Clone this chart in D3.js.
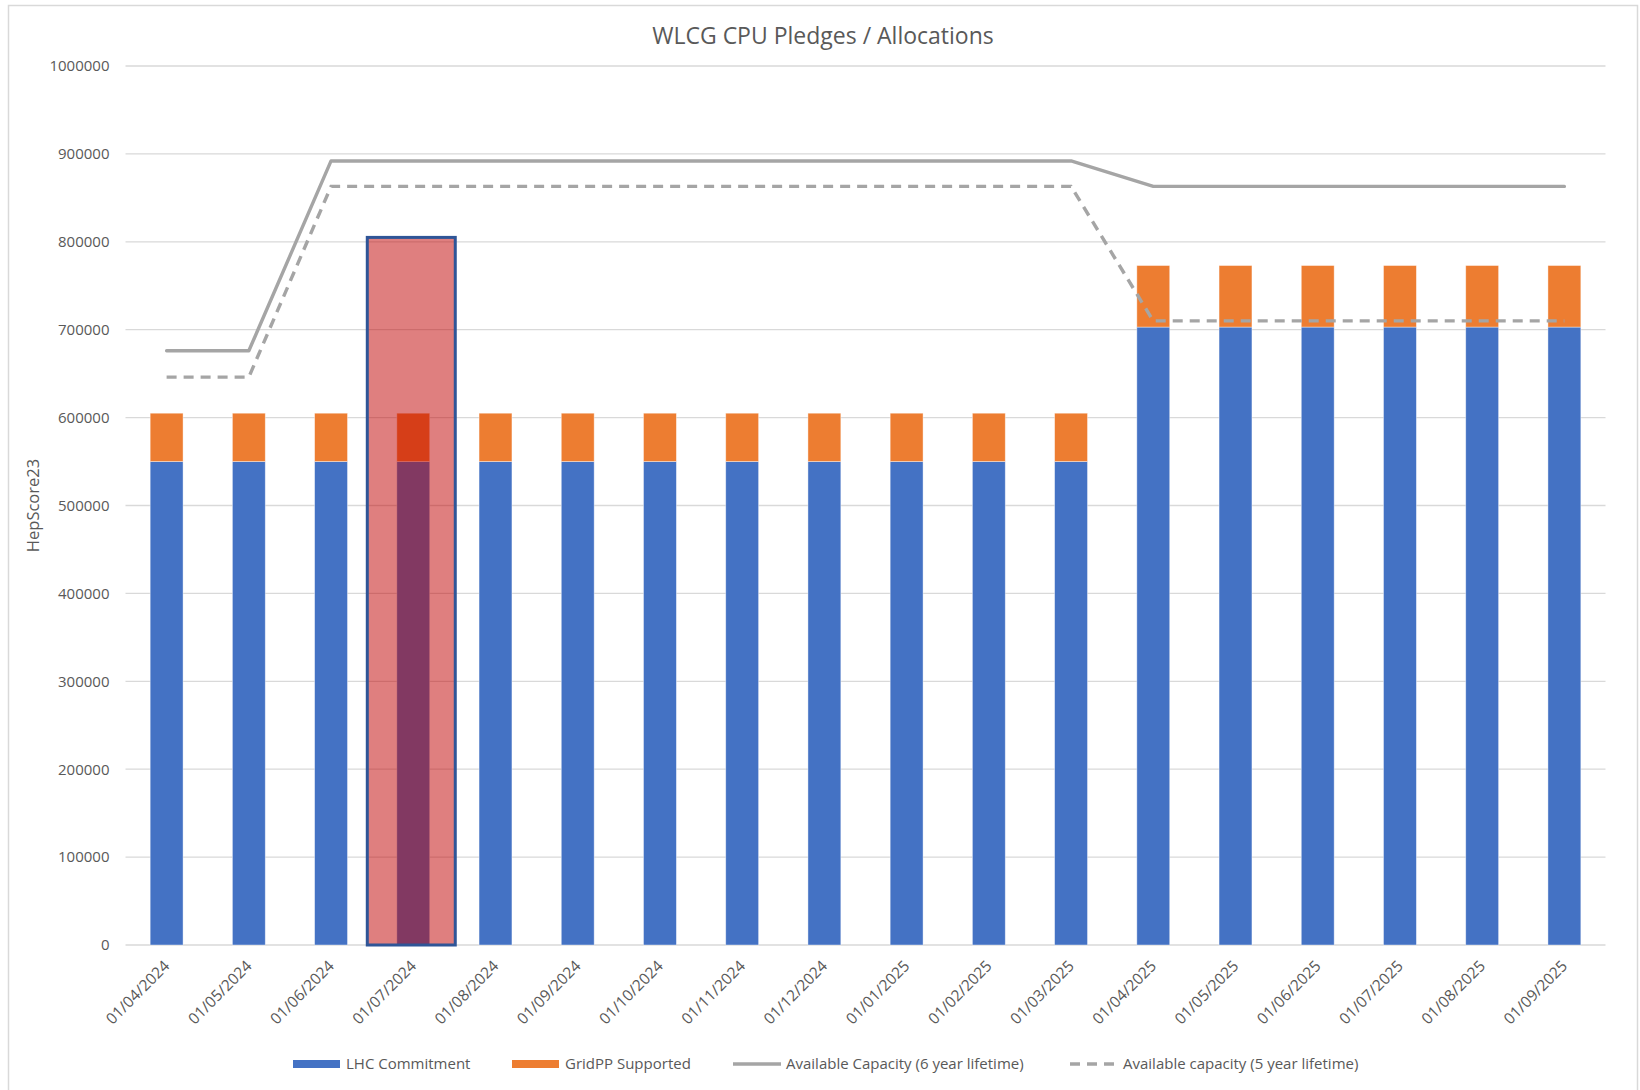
<!DOCTYPE html>
<html>
<head>
<meta charset="utf-8">
<script src="https://cdn.jsdelivr.net/npm/d3@7"></script>
<style>
  body { margin: 0; background: #fff; }
  svg { display: block; font-family: 'Open Sans', 'Noto Sans', sans-serif; }
</style>
</head>
<body>
<svg width="1640" height="1090"></svg>
<script>
const months = ['01/04/2024', '01/05/2024', '01/06/2024', '01/07/2024', '01/08/2024', '01/09/2024',
  '01/10/2024', '01/11/2024', '01/12/2024', '01/01/2025', '01/02/2025', '01/03/2025',
  '01/04/2025', '01/05/2025', '01/06/2025', '01/07/2025', '01/08/2025', '01/09/2025']
const lhcCommitment = [550000, 550000, 550000, 550000, 550000, 550000, 550000, 550000, 550000, 550000, 550000, 550000,
  703000, 703000, 703000, 703000, 703000, 703000]
const gridppSupported = [55000, 55000, 55000, 55000, 55000, 55000, 55000, 55000, 55000, 55000, 55000, 55000,
  70000, 70000, 70000, 70000, 70000, 70000]
const capacity6yr = [676000, 676000, 892000, 892000, 892000, 892000, 892000, 892000, 892000, 892000, 892000, 892000,
  863000, 863000, 863000, 863000, 863000, 863000]
const capacity5yr = [646000, 646000, 863000, 863000, 863000, 863000, 863000, 863000, 863000, 863000, 863000, 863000,
  710000, 710000, 710000, 710000, 710000, 710000]
const yTicks = [0, 100000, 200000, 300000, 400000, 500000, 600000, 700000, 800000, 900000, 1000000]
// highlighted month
const highlight = { month: '01/07/2024', value: 805000 }

const svg = d3.select('svg')
const margin = { top: 66, right: 34.5, bottom: 145, left: 125.5 }
const width = +svg.attr('width')
const height = +svg.attr('height')
const gray = '#595959'

svg.append('rect')
   .attr('x', 8.5).attr('y', 5.5)
   .attr('width', 1629).attr('height', 1100)
   .attr('fill', '#fff').attr('stroke', '#d9d9d9').attr('stroke-width', 1.5)

const x = d3.scaleBand()
            .domain(months)
            .range([margin.left, width - margin.right])
            .paddingInner(0.6)
            .paddingOuter(0.3)

const y = d3.scaleLinear()
            .domain([0, 1000000])
            .range([height - margin.bottom, margin.top])

// gridlines
svg.append('g')
   .selectAll('line')
   .data(yTicks)
   .enter().append('line')
   .attr('x1', margin.left).attr('x2', width - margin.right)
   .attr('y1', d => y(d)).attr('y2', d => y(d))
   .attr('stroke', '#d9d9d9').attr('stroke-width', 1.3)

// y axis labels
const yAxis = svg.append('g')
   .attr('transform', `translate(${margin.left - 16},0)`)
   .call(d3.axisLeft(y).tickValues(yTicks).tickSize(0).tickPadding(0).tickFormat(d3.format('d')))
yAxis.select('.domain').remove()
yAxis.selectAll('text').attr('fill', gray).attr('font-size', 15).attr('font-family', "'Open Sans', sans-serif")

// x axis labels
const xAxis = svg.append('g')
   .attr('transform', `translate(0,${y(0)})`)
   .call(d3.axisBottom(x).tickSize(0).tickPadding(0))
xAxis.select('.domain').remove()
xAxis.selectAll('text')
     .attr('fill', gray).attr('font-size', 15.5).attr('font-family', "'Open Sans', sans-serif")
     .attr('text-anchor', 'end')
     .attr('dy', 0)
     .attr('y', 0)
     .attr('transform', 'translate(4,22) rotate(-45)')

// stacked bars
const bars = svg.append('g')
bars.selectAll('.lhc')
    .data(months)
    .enter().append('rect')
    .attr('class', 'lhc')
    .attr('x', d => x(d))
    .attr('width', x.bandwidth())
    .attr('y', (d, i) => y(lhcCommitment[i]))
    .attr('height', (d, i) => y(0) - y(lhcCommitment[i]))
    .attr('fill', '#4472c4')
    .attr('stroke', '#fff').attr('stroke-opacity', 0.5).attr('stroke-width', 0.8)

bars.selectAll('.gridpp')
    .data(months)
    .enter().append('rect')
    .attr('class', 'gridpp')
    .attr('x', d => x(d))
    .attr('width', x.bandwidth())
    .attr('y', (d, i) => y(lhcCommitment[i] + gridppSupported[i]))
    .attr('height', (d, i) => y(lhcCommitment[i]) - y(lhcCommitment[i] + gridppSupported[i]))
    .attr('fill', '#ed7d31')
    .attr('stroke', '#fff').attr('stroke-opacity', 0.5).attr('stroke-width', 0.8)

// capacity lines
const line = d3.line()
               .x((d, i) => x(months[i]) + x.bandwidth() / 2)
               .y(d => y(d))

svg.append('path')
   .datum(capacity6yr)
   .attr('d', line)
   .attr('fill', 'none')
   .attr('stroke', '#a5a5a5').attr('stroke-width', 3.4)
   .attr('stroke-linejoin', 'round').attr('stroke-linecap', 'round')

svg.append('path')
   .datum(capacity5yr)
   .attr('d', line)
   .attr('fill', 'none')
   .attr('stroke', '#a5a5a5').attr('stroke-width', 3.4)
   .attr('stroke-dasharray', '10,7')

// highlight box (sits a touch left of the bar centre in the original)
const hx = x(highlight.month) + x.bandwidth() / 2 - 2
svg.append('rect')
   .attr('x', hx - x.step() * 0.535)
   .attr('width', x.step() * 1.07)
   .attr('y', y(highlight.value))
   .attr('height', y(0) - y(highlight.value))
   .attr('fill', 'rgba(192,0,0,0.5)')
   .attr('stroke', '#2f5597').attr('stroke-width', 3)

// title
svg.append('text')
   .attr('x', 823).attr('y', 44)
   .attr('text-anchor', 'middle')
   .attr('fill', gray).attr('font-size', 23)
   .text('WLCG CPU Pledges / Allocations')

// y axis title
svg.append('text')
   .attr('transform', `translate(39,${(y(0) + y(1000000)) / 2}) rotate(-90)`)
   .attr('text-anchor', 'middle')
   .attr('fill', gray).attr('font-size', 16.5)
   .text('HepScore23')

// legend
const legendY = 1064
const legend = [
  { name: 'LHC Commitment', x: 293, type: 'rect', color: '#4472c4' },
  { name: 'GridPP Supported', x: 512, type: 'rect', color: '#ed7d31' },
  { name: 'Available Capacity (6 year lifetime)', x: 732, type: 'line' },
  { name: 'Available capacity (5 year lifetime)', x: 1069, type: 'dash' }
]
const item = svg.append('g').selectAll('g')
                .data(legend)
                .enter().append('g')
                .attr('transform', d => `translate(${d.x},${legendY})`)

item.filter(d => d.type === 'rect').append('rect')
    .attr('x', 0).attr('y', -4).attr('width', 47).attr('height', 8)
    .attr('fill', d => d.color)

item.filter(d => d.type !== 'rect').append('line')
    .attr('x1', 1).attr('x2', 49).attr('y1', 0).attr('y2', 0)
    .attr('stroke', '#a5a5a5').attr('stroke-width', 3.6)
    .attr('stroke-dasharray', d => d.type === 'dash' ? '10,7' : null)

item.append('text')
    .attr('x', d => d.type === 'rect' ? 53 : 54)
    .attr('dy', '0.35em')
    .attr('fill', gray).attr('font-size', 15)
    .text(d => d.name)
</script>
</body>
</html>
